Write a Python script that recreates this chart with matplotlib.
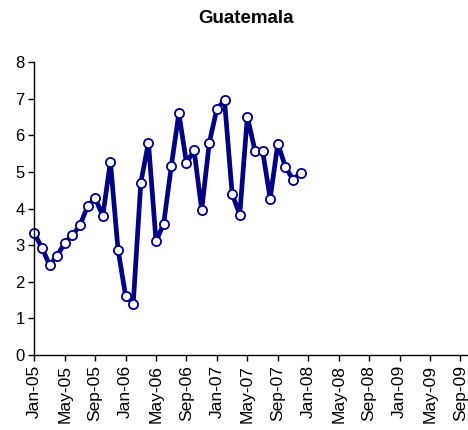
import numpy as np
import matplotlib
matplotlib.use("Agg")
import matplotlib.pyplot as plt

plt.rcParams['font.family'] = ['Liberation Sans', 'DejaVu Sans']

# monthly values, Jan-05 .. Dec-07
values = [3.32, 2.93, 2.46, 2.71, 3.06, 3.27, 3.54, 4.06, 4.28, 3.80, 5.28, 2.88,
          1.62, 1.40, 4.71, 5.80, 3.10, 3.58, 5.15, 6.60, 5.24, 5.59, 3.96, 5.80,
          6.72, 6.95, 4.40, 3.83, 6.51, 5.58, 5.58, 4.27, 5.77, 5.14, 4.79, 4.97]
month_names = ['Jan', 'May', 'Sep']
years = ['05', '06', '07', '08', '09']

# tick labels every 4 months
tick_pos = []
tick_labels = []
for i, yr in enumerate(years):
    for j, m in enumerate(month_names):
        tick_pos.append(i * 12 + j * 4)
        tick_labels.append(f"{m}-{yr}")

x = np.arange(len(values))

fig = plt.figure(figsize=(4.68, 4.30), dpi=100)
ax = fig.add_axes([0.0733, 0.1744, 0.9267, 0.6814])

ax.plot(x, values, color='#000080', linewidth=3.4, marker='o',
        markersize=6.6, markerfacecolor='white', markeredgecolor='#000080',
        markeredgewidth=1.3, clip_on=False)

ax.set_xlim(0, 57)
ax.set_ylim(0, 8)
ax.set_yticks(range(0, 9))
ax.set_xticks(tick_pos)
ax.set_xticklabels(tick_labels, rotation=90)
ax.tick_params(axis='both', labelsize=12, length=4, width=1, color='black',
               direction='out', pad=3)
ax.tick_params(axis='x', labelsize=12.5)

for side in ['top', 'right']:
    ax.spines[side].set_visible(False)
for side in ['left', 'bottom']:
    ax.spines[side].set_linewidth(1)

fig.text(0.525, 0.958, 'Guatemala', ha='center', va='center',
         fontsize=13.5, fontweight='bold')

fig.savefig('out.png', dpi=100)
